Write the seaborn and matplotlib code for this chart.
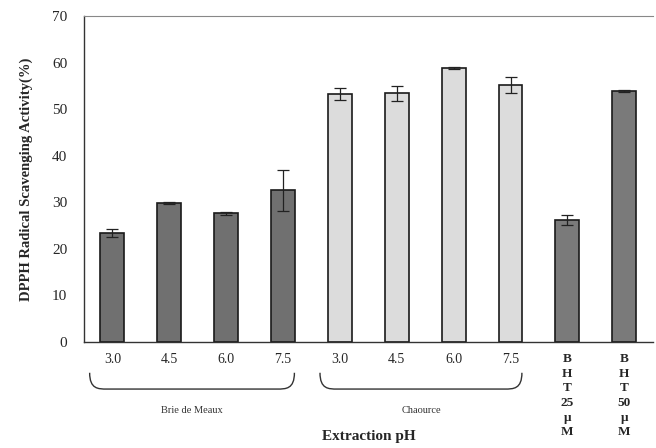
import numpy as np
import pandas as pd
import matplotlib
matplotlib.use("Agg")
import matplotlib.pyplot as plt
from matplotlib.path import Path
from matplotlib.patches import PathPatch
import matplotlib.transforms as mtransforms
import seaborn as sns

# ---- data ----
categories = ["BdM 3.0", "BdM 4.5", "BdM 6.0", "BdM 7.5",
              "Ch 3.0", "Ch 4.5", "Ch 6.0", "Ch 7.5",
              "BHT 25", "BHT 50"]
tick_labels = ["3.0", "4.5", "6.0", "7.5", "3.0", "4.5", "6.0", "7.5",
               "B\nH\nT\n25\nμ\nM", "B\nH\nT\n50\nμ\nM"]
groups = ["Brie de Meaux"] * 4 + ["Chaource"] * 4 + ["BHT"] * 2
values = [23.4, 29.8, 27.6, 32.6, 53.2, 53.4, 58.8, 55.2, 26.2, 54.0]
errors = [0.8, 0.2, 0.3, 4.4, 1.3, 1.6, 0.2, 1.7, 1.0, 0.2]
group_labels = ["Brie de Meaux", "Chaource"]
y_ticks = [0, 10, 20, 30, 40, 50, 60, 70]

df = pd.DataFrame({"category": categories, "value": values, "group": groups})

sns.set_theme(style="white")
plt.rcParams["font.family"] = ["Liberation Serif", "DejaVu Serif"]

fig = plt.figure(figsize=(6.56, 4.48), dpi=100)
ax = fig.add_axes([0.128, 0.237, 0.867, 0.727])

palette = {"Brie de Meaux": "#707070", "Chaource": "#dcdcdc", "BHT": "#7a7a7a"}
sns.barplot(data=df, x="category", y="value", hue="group", palette=palette,
            dodge=False, width=0.42, edgecolor="#1a1a1a", linewidth=1.2,
            legend=False, ax=ax, errorbar=None)

xpos = np.arange(len(categories))
ax.errorbar(xpos, values, yerr=errors, fmt="none", ecolor="#222222",
            elinewidth=0.9, capsize=4, capthick=0.9)

ax.set_xlim(-0.5, len(categories) - 0.5)
ax.set_ylim(0, 70)
ax.set_yticks(y_ticks)
ax.set_yticklabels([str(t) for t in y_ticks], fontsize=11)
ax.set_xticks(xpos)
ax.set_xticklabels(tick_labels, fontsize=10, va="top", linespacing=1.3)
for lbl in ax.get_xticklabels()[8:]:
    lbl.set_fontweight("bold")
    lbl.set_fontsize(9.5)
ax.tick_params(axis="y", length=3, width=0.8, direction="in", pad=12, color="#444444")
ax.tick_params(axis="x", length=0, pad=8)

for s in ["left", "bottom"]:
    ax.spines[s].set_color("#333333")
    ax.spines[s].set_linewidth(1.0)
ax.spines["top"].set_color("#888888")
ax.spines["top"].set_linewidth(0.8)
ax.spines["right"].set_visible(False)

ax.set_xlabel("")
ax.set_ylabel("DPPH Radical Scavenging Activity(%)", fontsize=10.5,
              fontweight="bold", labelpad=14)

# braces under groups
trans = mtransforms.blended_transform_factory(ax.transData, ax.transAxes)

def brace(x0, x1, label):
    ytop, ybot = -0.095, -0.145
    c = 0.15
    verts = [(x0, ytop), (x0, ybot), (x0 + c, ybot), (x0 + 2 * c, ybot),
             (x1 - 2 * c, ybot),
             (x1 - c, ybot), (x1, ybot), (x1, ytop)]
    codes = [Path.MOVETO, Path.CURVE4, Path.CURVE4, Path.CURVE4,
             Path.LINETO, Path.CURVE4, Path.CURVE4, Path.CURVE4]
    p = PathPatch(Path(verts, codes), fill=False, lw=1.0, ec="#333333",
                  transform=trans, clip_on=False)
    ax.add_patch(p)
    ax.text((x0 + x1) / 2, -0.21, label, transform=trans, ha="center",
            va="center", fontsize=7.5, color="#333333")

brace(-0.4, 3.2, group_labels[0])
brace(3.65, 7.2, group_labels[1])

ax.text(4.5, -0.29, "Extraction pH", transform=trans, ha="center", va="center",
        fontsize=11, fontweight="bold")

fig.savefig("out.png", dpi=100)
